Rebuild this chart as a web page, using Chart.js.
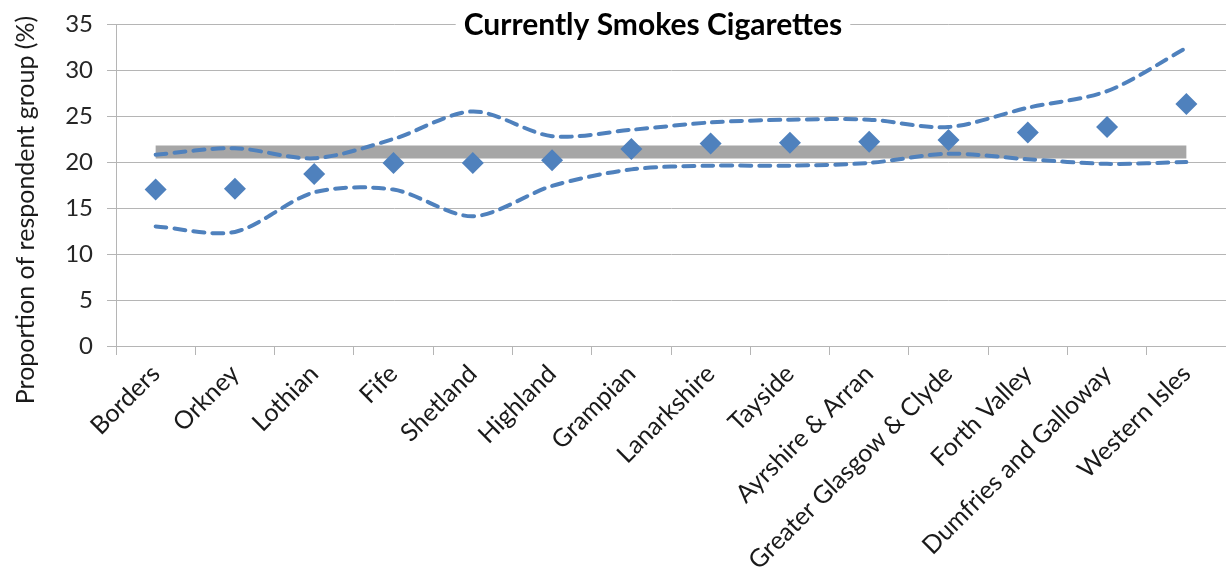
<!DOCTYPE html>
<html>
<head>
<meta charset="utf-8">
<title>Currently Smokes Cigarettes</title>
<script src="https://cdn.jsdelivr.net/npm/chart.js@4/dist/chart.umd.min.js"></script>
<style>
  html, body { margin: 0; padding: 0; background: #ffffff; }
  #wrap { width: 1226px; height: 569px; }
</style>
</head>
<body>
<div id="wrap"><canvas id="chart" width="1226" height="569"></canvas></div>
<script>
// NHS board areas, ordered by prevalence
const boards = ['Borders', 'Orkney', 'Lothian', 'Fife', 'Shetland', 'Highland', 'Grampian',
  'Lanarkshire', 'Tayside', 'Ayrshire & Arran', 'Greater Glasgow & Clyde', 'Forth Valley',
  'Dumfries and Galloway', 'Western Isles'];

// Proportion currently smoking cigarettes (%)
const smokers = [17.0, 17.1, 18.7, 19.9, 19.9, 20.2, 21.4, 22.0, 22.1, 22.2, 22.4, 23.2, 23.8, 26.3];

// 95% confidence interval bounds (%)
const ciUpper = [20.8, 21.5, 20.4, 22.5, 25.5, 22.8, 23.5, 24.3, 24.6, 24.6, 23.8, 25.9, 27.7, 32.4];
const ciLower = [13.0, 12.4, 16.7, 17.0, 14.1, 17.4, 19.2, 19.6, 19.6, 19.9, 20.9, 20.3, 19.8, 20.0];

// Scotland-wide figure (%), drawn as a band across all boards
const scotland = [21.1, 21.1, 21.1, 21.1, 21.1, 21.1, 21.1, 21.1, 21.1, 21.1, 21.1, 21.1, 21.1, 21.1];

// Value axis ticks
const yTicks = [0, 5, 10, 15, 20, 25, 30, 35];

const titleText = 'Currently Smokes Cigarettes';
const yTitleText = 'Proportion of respondent group (%)';

const FONT = 'Lato, "Open Sans", "Liberation Sans", sans-serif';
const BLUE = '#4F81BD';
const GRID = '#b5b5b5';

// Title sitting on the top gridline, and the rotated value-axis title
const headings = {
  id: 'headings',
  afterDraw(chart) {
    const ctx = chart.ctx;
    const yTop = chart.scales.y.getPixelForValue(yTicks[yTicks.length - 1]);
    ctx.save();
    ctx.font = 'bold 30px ' + FONT;
    const w = ctx.measureText(titleText).width;
    const cx = 653;
    ctx.fillStyle = '#ffffff';
    ctx.fillRect(cx - w / 2 - 8, yTop - 14, w + 16, 28);
    ctx.fillStyle = '#000000';
    ctx.textAlign = 'center';
    ctx.textBaseline = 'alphabetic';
    ctx.fillText(titleText, cx, yTop + 11);

    ctx.font = '25px ' + FONT;
    ctx.fillStyle = '#1a1a1a';
    ctx.translate(26, 210);
    ctx.rotate(-Math.PI / 2);
    ctx.textAlign = 'center';
    ctx.textBaseline = 'middle';
    ctx.fillText(yTitleText, 0, 0);
    ctx.restore();
  }
};

const dashed = {
  borderColor: BLUE,
  borderWidth: 4,
  borderDash: [11, 8],
  borderCapStyle: 'round',
  tension: 0.3,
  pointRadius: 0,
  fill: false,
  order: 1
};

new Chart(document.getElementById('chart'), {
  type: 'line',
  data: {
    labels: boards,
    datasets: [
      {
        label: 'Currently smokes cigarettes',
        data: smokers,
        showLine: false,
        pointStyle: 'rectRot',
        pointRadius: 11,
        pointBorderWidth: 0,
        pointBackgroundColor: BLUE,
        pointBorderColor: BLUE,
        order: 0
      },
      Object.assign({ label: 'Upper 95% CI', data: ciUpper }, dashed),
      Object.assign({ label: 'Lower 95% CI', data: ciLower }, dashed),
      {
        label: 'Scotland',
        data: scotland,
        borderColor: '#a6a6a6',
        borderWidth: 13,
        borderCapStyle: 'butt',
        pointRadius: 0,
        fill: false,
        order: 2
      }
    ]
  },
  options: {
    responsive: false,
    animation: false,
    devicePixelRatio: 1,
    layout: { autoPadding: false, padding: { top: 24, left: 0, right: 0, bottom: 0 } },
    plugins: {
      legend: { display: false },
      tooltip: { enabled: false },
      title: { display: false }
    },
    scales: {
      x: {
        type: 'category',
        offset: true,
        grid: {
          display: true,
          offset: true,
          drawOnChartArea: false,
          drawTicks: true,
          tickLength: 9,
          color: GRID
        },
        border: { display: true, color: GRID },
        ticks: {
          autoSkip: false,
          minRotation: 45,
          maxRotation: 45,
          padding: 4,
          color: '#1a1a1a',
          font: { family: FONT, size: 25 }
        },
        afterFit(scale) {
          scale.height = 223;
          scale.paddingLeft = 0;
          scale.paddingRight = 0;
        }
      },
      y: {
        min: yTicks[0],
        max: yTicks[yTicks.length - 1],
        afterBuildTicks(scale) { scale.ticks = yTicks.map(v => ({ value: v })); },
        grid: {
          color: GRID,
          tickLength: 9,
          drawTicks: true
        },
        border: { display: true, color: GRID },
        ticks: {
          padding: 14,
          color: '#262626',
          font: { family: FONT, size: 24 }
        },
        afterFit(scale) {
          scale.width = 116;
          scale.paddingTop = 0;
          scale.paddingBottom = 0;
        }
      }
    }
  },
  plugins: [headings]
});
</script>
</body>
</html>
